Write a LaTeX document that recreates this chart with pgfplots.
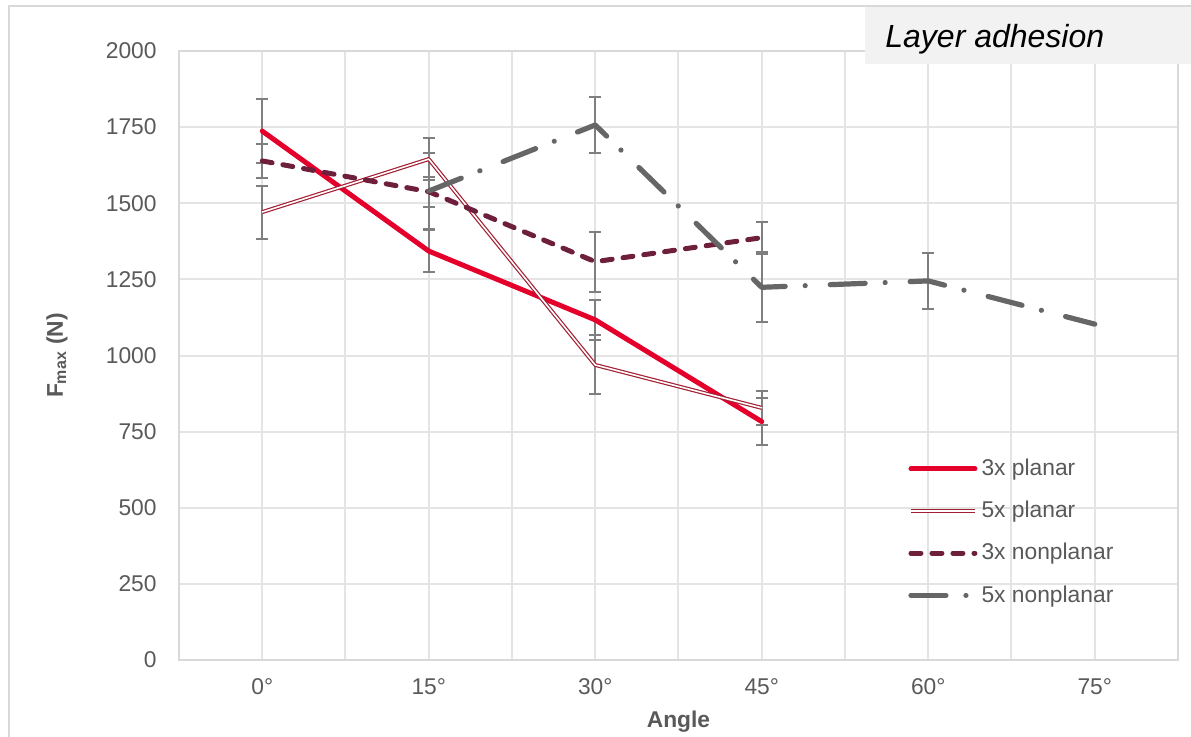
\documentclass[border=0pt]{standalone}
\usepackage{fontspec}
\setmainfont{Liberation Sans}
\usepackage{pgfplots}
\pgfplotsset{compat=1.18}

\definecolor{planarA}{HTML}{E4002B}
\definecolor{planarB}{HTML}{A31F34}
\definecolor{nonplA}{HTML}{6E1F3C}
\definecolor{nonplB}{HTML}{666666}
\definecolor{errgray}{HTML}{7F7F7F}
\definecolor{txtgray}{HTML}{595959}
\definecolor{gridc}{HTML}{E4E4E4}
\definecolor{framec}{HTML}{D9D9D9}
\definecolor{titlefill}{HTML}{F2F2F2}

\newcommand\lab{\fontsize{11.4}{13.7}\selectfont}

% error bars only, drawn first so the lines sit on top
\pgfplotsset{
  ebars/.style={forget plot, draw=none,
    error bars/.cd, y dir=both, y explicit,
    error bar style={draw=errgray, line width=1pt, solid},
    error mark options={rotate=90, mark size=3pt, draw=errgray, line width=1pt, solid}},
}

\begin{document}
\begin{tikzpicture}
\useasboundingbox (0,0) rectangle (595.5pt,368pt);
\draw[framec, line width=1pt] (4.5pt,-20pt) rectangle (620pt,365pt);
\begin{axis}[
  at={(89.5pt,38pt)}, anchor=south west,
  scale only axis, width=499.5pt, height=304.5pt,
  xmin=-0.5, xmax=5.5, ymin=0, ymax=2000,
  xtick={0,...,5},
  xticklabels={0°,15°,30°,45°,60°,75°},
  minor xtick={-0.5,0.5,...,5.5},
  ytick distance=250,
  xmajorgrids, xminorgrids, ymajorgrids,
  grid style={gridc, line width=1pt},
  minor grid style={gridc, line width=1pt},
  axis line style={framec, line width=1pt},
  major tick length=0pt, minor tick length=0pt,
  tick style={draw=none},
  ticklabel style={font=\lab, text=txtgray, inner sep=0pt},
  yticklabel style={anchor=east, xshift=-11pt},
  xticklabel style={anchor=north, yshift=-9pt},
  /pgf/number format/assume math mode=true,
  /pgf/number format/set thousands separator={},
  xlabel={\textbf{Angle}},
  xlabel style={at={(rel axis cs:0.5,-0.0837)}, anchor=north, inner sep=0pt, font=\lab, text=txtgray},
  ylabel={\textbf{F\textsubscript{max} (N)}},
  ylabel style={at={(rel axis cs:-0.1221,0.5)}, anchor=center, inner sep=0pt, font=\lab, text=txtgray},
  legend style={draw=none, fill=none, at={(rel axis cs:0.7237,0.3436)}, anchor=north west,
    font=\lab, text=txtgray, row sep=7.3pt, nodes={inner sep=2pt}, cells={anchor=west}},
  legend image code/.code={\draw[#1] (0pt,0pt) -- (32pt,0pt);},
]
% error bars
\addplot[ebars] coordinates {(0,1737) +- (0,105) (1,1343) +- (0,69) (2,1117) +- (0,66) (3,783) +- (0,76)};
\addplot[ebars] coordinates {(0,1471) +- (0,87) (1,1645) +- (0,70) (2,969) +- (0,97) (3,828) +- (0,56)};
\addplot[ebars] coordinates {(0,1639) +- (0,56) (1,1538) +- (0,49) (2,1308) +- (0,98) (3,1387) +- (0,53)};
\addplot[ebars] coordinates {(1,1540) +- (0,125) (2,1757) +- (0,91) (3,1224) +- (0,115) (4,1245) +- (0,93)};

% lines
\addplot[planarA, line width=2.5pt, line cap=round, line join=round]
  coordinates {(0,1737) (1,1343) (2,1117) (3,783)};
\addplot[planarB, line width=0.6pt, double=white, double distance=0.8pt, line join=round]
  coordinates {(0,1471) (1,1645) (2,969) (3,828)};
\addplot[nonplA, line width=2.5pt, line cap=round, line join=round, dash pattern=on 5pt off 5.5pt]
  coordinates {(0,1639) (1,1538) (2,1308) (3,1387)};
\addplot[nonplB, line width=2.6pt, line cap=round, line join=round, dash pattern=on 17.5pt off 10pt on 0.01pt off 12.5pt]
  coordinates {(1,1540) (2,1757) (3,1224) (4,1245) (5,1103)};
\legend{3x planar, 5x planar, 3x nonplanar, 5x nonplanar}
\end{axis}
\fill[titlefill] (432.5pt,336pt) rectangle (620pt,364.5pt);
\node[anchor=base west, inner sep=0pt, font=\fontsize{16}{19}\selectfont\itshape]
  at (442.5pt,344.5pt) {Layer adhesion};
\end{tikzpicture}
\end{document}
